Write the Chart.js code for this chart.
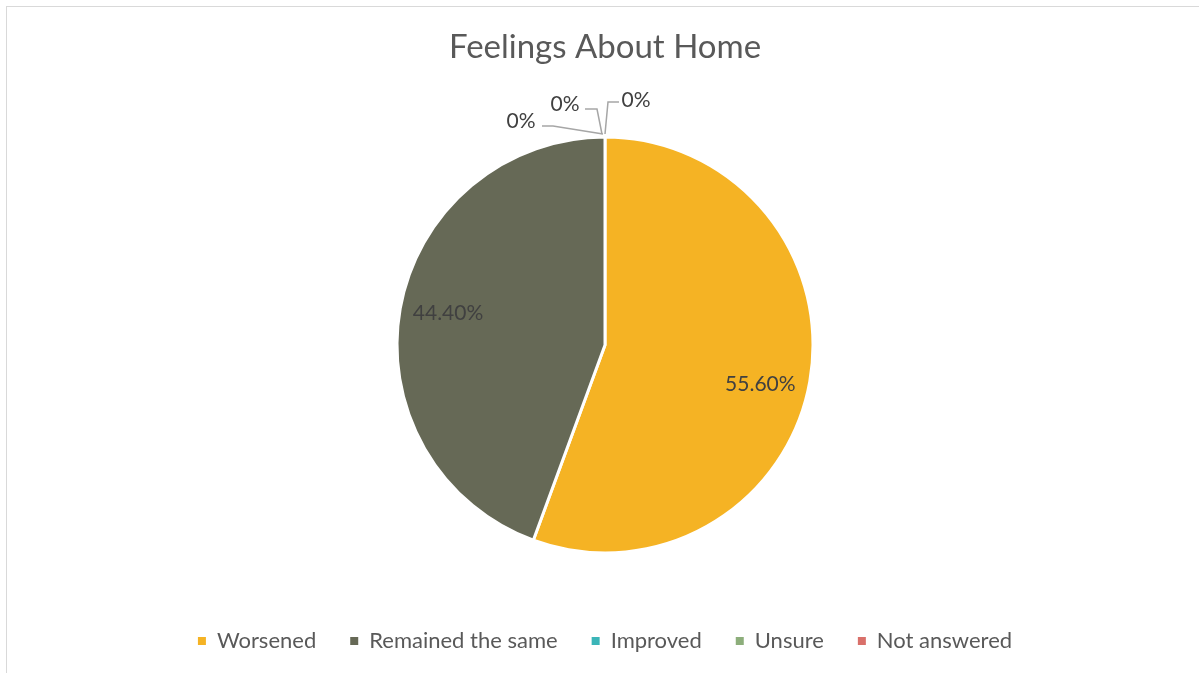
<!DOCTYPE html>
<html>
<head>
<meta charset="utf-8">
<script src="https://cdn.jsdelivr.net/npm/chart.js@4"></script>
<style>
  html, body { margin: 0; padding: 0; background: #fff; overflow: hidden; }
  #frame { position: absolute; left: 6px; top: 6px; width: 1400px; height: 900px; border: 1px solid #d9d9d9; }
  #wrap { position: absolute; left: 0; top: 0; width: 1199px; height: 673px; }
</style>
</head>
<body>
<div id="frame"></div>
<div id="wrap"><canvas id="pieChart" width="1199" height="673"></canvas></div>
<script>
const categories = ["Worsened", "Remained the same", "Improved", "Unsure", "Not answered"];
const shares = [55.6, 44.4, 0, 0, 0];
const sliceColors = ["#F5B324", "#666956", "#3BB5B8", "#8DAE7B", "#D9706A"];

// label nudge (degrees) for the two real slices, like Excel's best fit
const labelTurn = [4, 1.4];

// where the "0%" callouts sit, relative to the point on the rim they point at
const callouts = [
  { text: [-84, -16], line: [[-63, -11], [-52, -11], [-2, -3]] },
  { text: [-40, -33], line: [[-20, -28], [-8, -28], [-3, -3]] },
  { text: [31, -37], line: [[14, -35], [3, -35], [0, -3]] },
];

const FONT = "Lato, 'Open Sans', sans-serif";

const sliceLabels = {
  id: "sliceLabels",
  afterDatasetsDraw(chart) {
    const ctx = chart.ctx;
    const meta = chart.getDatasetMeta(0);
    ctx.save();
    ctx.font = "21px " + FONT;
    ctx.fillStyle = "#404040";
    ctx.textAlign = "center";
    ctx.textBaseline = "middle";
    let z = 0;
    meta.data.forEach((arc, i) => {
      const p = arc.getProps(["x", "y", "startAngle", "endAngle", "outerRadius"], true);
      const v = shares[i];
      if (v > 0) {
        const mid = (p.startAngle + p.endAngle) / 2 + ((labelTurn[i] || 0) * Math.PI) / 180;
        const d = p.outerRadius * 0.77;
        ctx.fillText(v.toFixed(2) + "%", p.x + Math.cos(mid) * d, p.y + Math.sin(mid) * d);
      } else {
        const c = callouts[z++];
        const ax = p.x + Math.cos(p.startAngle) * p.outerRadius;
        const ay = p.y + Math.sin(p.startAngle) * p.outerRadius;
        ctx.strokeStyle = "#a6a6a6";
        ctx.lineWidth = 1.5;
        ctx.beginPath();
        c.line.forEach((pt, k) => {
          if (k === 0) ctx.moveTo(ax + pt[0], ay + pt[1]);
          else ctx.lineTo(ax + pt[0], ay + pt[1]);
        });
        ctx.stroke();
        ctx.fillText("0%", ax + c.text[0], ay + c.text[1]);
      }
    });
    ctx.restore();
  },
};

new Chart(document.getElementById("pieChart"), {
  type: "pie",
  data: {
    labels: categories,
    datasets: [
      {
        data: shares,
        backgroundColor: sliceColors,
        borderColor: "#ffffff",
        borderWidth: 3,
        radius: 208,
      },
    ],
  },
  options: {
    responsive: false,
    animation: false,
    layout: { padding: { left: 11, right: 0, top: 0, bottom: 11 } },
    plugins: {
      tooltip: { enabled: false },
      title: {
        display: true,
        text: "Feelings About Home",
        color: "#595959",
        font: { family: FONT, size: 33, weight: "normal" },
        padding: { top: 28, bottom: 26.4 },
      },
      legend: {
        position: "bottom",
        labels: {
          color: "#595959",
          font: { family: FONT, size: 22 },
          boxWidth: 8,
          boxHeight: 8,
          padding: 34,
          generateLabels(chart) {
            return Chart.overrides.pie.plugins.legend.labels
              .generateLabels(chart)
              .map((l) => ({ ...l, lineWidth: 0, strokeStyle: l.fillStyle }));
          },
        },
      },
    },
  },
  plugins: [sliceLabels],
});
</script>
</body>
</html>
